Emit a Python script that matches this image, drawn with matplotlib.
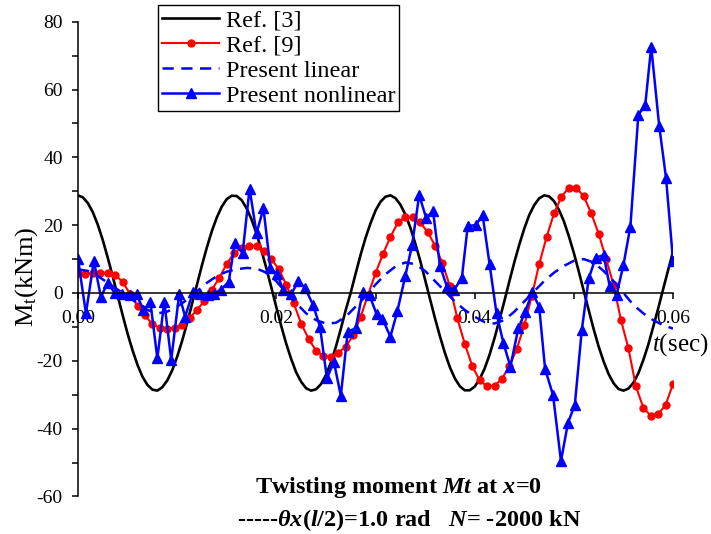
import matplotlib
matplotlib.use("Agg")
import matplotlib.pyplot as plt
import numpy as np
from matplotlib.ticker import MultipleLocator, FormatStrFormatter

SERIF = "Liberation Serif"
plt.rcParams["font.family"] = SERIF
plt.rcParams["axes.unicode_minus"] = False
plt.rcParams["mathtext.fontset"] = "custom"
plt.rcParams["mathtext.rm"] = SERIF
plt.rcParams["mathtext.it"] = SERIF + ":italic"
plt.rcParams["mathtext.bf"] = SERIF + ":bold"
plt.rcParams["mathtext.bfit"] = SERIF + ":bold:italic"

# ---- data -------------------------------------------------------------
# Ref. [3]: sampled every 0.5 ms
t_ref3 = np.linspace(0.0, 0.06, 121)
m_ref3 = [
    28.8, 28.2, 26.5, 23.8, 20.1, 15.6, 10.4, 4.9, -0.8, -6.5,
    -12.0, -16.9, -21.2, -24.7, -27.1, -28.5, -28.8, -27.8, -25.8, -22.8,
    -18.8, -14.1, -8.9, -3.2, 2.5, 8.2, 13.5, 18.3, 22.3, 25.5,
    27.7, 28.7, 28.6, 27.4, 25.0, 21.7, 17.5, 12.6, 7.2, 1.6,
    -4.2, -9.8, -15.0, -19.5, -23.4, -26.2, -28.1, -28.8, -28.4, -26.9,
    -24.2, -20.5, -15.9, -10.6, -5.0, 0.1, 5.8, 11.3, 16.3, 20.6,
    24.3, 26.9, 28.4, 28.8, 28.0, 26.1, 23.2, 19.4, 14.7, 9.6,
    3.9, -1.8, -7.5, -12.8, -17.7, -21.9, -25.2, -27.5, -28.7, -28.7,
    -27.6, -25.4, -22.3, -18.2, -13.3, -7.9, -2.3, 3.5, 9.1, 14.3,
    19.0, 23.0, 25.9, 27.9, 28.8, 28.5, 27.1, 24.5, 21.1, 16.7,
    11.8, 6.3, 0.6, -5.1, -10.7, -15.8, -20.2, -23.9, -26.6, -28.3,
    -28.8, -28.2, -26.5, -23.7, -19.8, -15.3, -10.0, -4.6, 1.1, 6.7,
    12.2,
]

# Ref. [9]: sampled every 0.75 ms
t_ref9 = np.linspace(0.0, 0.06, 81)
m_ref9 = [
    6.0, 5.6, 6.0, 6.0, 5.9, 5.3, 3.3, -0.3, -3.8, -6.6,
    -9.2, -10.3, -10.5, -10.3, -9.3, -7.5, -4.9, -2.4, 1.0, 4.5,
    8.6, 11.8, 13.4, 14.0, 13.8, 12.4, 10.0, 7.0, 2.5, -3.0,
    -9.0, -13.5, -17.0, -18.6, -18.8, -17.6, -15.8, -12.5, -7.0, -0.5,
    5.8, 11.5, 16.5, 20.8, 22.3, 22.3, 20.8, 18.0, 14.0, 8.8,
    2.0, -7.5, -15.0, -21.5, -25.8, -27.5, -27.4, -25.3, -21.5, -16.5,
    -9.5, -1.0, 8.5, 16.5, 23.5, 28.4, 31.1, 31.0, 28.5, 23.5,
    17.5, 10.0, 2.5, -8.0, -16.3, -27.5, -33.8, -36.2, -35.8, -33.0,
    -26.8,
]

# Present linear: sampled every 1 ms
t_lin = np.linspace(0.0, 0.06, 61)
m_lin = [
    7.0, 6.5, 5.0, 3.0, 1.0, -1.0, -3.0, -5.0, -6.0, -5.5,
    -4.0, -2.0, 0.5, 3.0, 5.0, 6.3, 7.0, 7.4, 7.2, 6.0,
    3.5, 0.0, -3.0, -6.0, -8.0, -9.0, -8.8, -7.0, -4.0, -1.0,
    2.5, 5.5, 7.8, 9.0, 8.5, 6.5, 3.5, 0.5, -2.5, -5.0,
    -7.0, -8.6, -9.0, -8.0, -5.5, -2.5, 0.5, 3.5, 6.0, 8.0,
    9.5, 10.0, 9.0, 6.5, 3.5, 0.0, -3.5, -6.0, -8.0, -9.5,
    -10.5,
]

# Present nonlinear
t_nl = [
    0.0000, 0.0008, 0.0016, 0.0023, 0.0030, 0.0037, 0.0044, 0.0052, 0.0059, 0.0066,
    0.0073, 0.0080, 0.0087, 0.0094, 0.0102, 0.0108, 0.0116, 0.0123, 0.0131, 0.0137,
    0.0144, 0.0152, 0.0158, 0.0166, 0.0173, 0.0180, 0.0187, 0.0194, 0.0201, 0.0207,
    0.0215, 0.0222, 0.0229, 0.0237, 0.0244, 0.0251, 0.0258, 0.0265, 0.0272, 0.0280,
    0.0287, 0.0294, 0.0301, 0.0307, 0.0315, 0.0322, 0.0330, 0.0337, 0.0344, 0.0351,
    0.0358, 0.0365, 0.0372, 0.0379, 0.0387, 0.0393, 0.0401, 0.0408, 0.0415, 0.0422,
    0.0429, 0.0436, 0.0444, 0.0451, 0.0458, 0.0465, 0.0471, 0.0479, 0.0487, 0.0494,
    0.0501, 0.0508, 0.0515, 0.0522, 0.0530, 0.0536, 0.0543, 0.0550, 0.0557, 0.0565,
    0.0572, 0.0578, 0.0586, 0.0593, 0.0600,
]
m_nl = [
    10.0, -6.0, 9.5, -1.1, 2.9, 0.0, -0.4, -0.6, -0.4, -5.0,
    -2.7, -19.3, -2.6, -19.8, -0.4, -7.0, 0.3, -0.4, -0.6, -0.2,
    1.0, 3.3, 14.7, 11.8, 30.8, 17.6, 25.0, 7.3, 5.5, 0.8,
    -0.4, 3.5, 1.5, -3.5, -9.9, -25.2, -20.3, -30.3, -11.4, -10.4,
    0.3, -0.7, -6.2, -7.6, -12.9, -5.4, 5.0, 14.3, 28.9, 22.2,
    24.1, 8.0, 1.9, 0.9, 4.3, 19.8, 20.0, 23.0, 8.5, -6.0,
    -14.8, -21.7, -10.4, -5.5, 0.2, -4.0, -22.4, -30.1, -49.6, -38.4,
    -32.9, -10.9, 4.3, 10.4, 11.2, 2.2, -0.6, 8.3, 19.6, 52.5,
    55.5, 72.7, 49.4, 33.8, 9.5,
]

x_ticks = [0.00, 0.02, 0.04, 0.06]
y_ticks = [-60, -40, -20, 0, 20, 40, 60, 80]

# ---- figure -----------------------------------------------------------
fig = plt.figure(figsize=(7.11, 5.34), dpi=100)
ax = fig.add_axes([0.1097, 0.0704, 0.8369, 0.8888])

ax.plot(t_ref3, m_ref3, color="black", lw=1.9, label="Ref. [3]")
ax.plot(t_ref9, m_ref9, color="#ff0000", lw=1.5, marker="o", ms=5,
        label="Ref. [9]")
ax.plot(t_lin, m_lin, color="#0000ff", lw=1.8, ls=(0, (4.5, 3.0)),
        label="Present linear")
ax.plot(t_nl, m_nl, color="#0000ff", lw=1.8, marker="^", ms=7,
        label="Present nonlinear")

ax.set_xlim(0, 0.06)
ax.set_ylim(-60, 80)

ax.spines["top"].set_visible(False)
ax.spines["right"].set_visible(False)
ax.spines["bottom"].set_position(("data", 0))
for s in ("left", "bottom"):
    ax.spines[s].set_linewidth(1.1)

ax.set_xticks(x_ticks)
ax.xaxis.set_minor_locator(MultipleLocator(0.01))
ax.xaxis.set_major_formatter(FormatStrFormatter("%.2f"))
ax.set_yticks(y_ticks)
ax.yaxis.set_minor_locator(MultipleLocator(10))
ax.tick_params(which="both", direction="out", length=4, width=1.1,
               color="black")
ax.tick_params(axis="x", labelsize=14, pad=8)
ax.tick_params(axis="y", labelsize=14, pad=7)

leg = ax.legend(loc="upper left", bbox_to_anchor=(158 / 711, 1 - 5 / 534),
                bbox_transform=fig.transFigure, borderaxespad=0,
                fancybox=False, edgecolor="black", framealpha=1,
                fontsize=17.5, handlelength=2.35, handletextpad=0.25,
                labelspacing=0.13, borderpad=0.18)
leg.get_frame().set_linewidth(1.0)

fig.text(27 / 711, 1 - 277 / 534, r"M$_\mathrm{t}$(kNm)", rotation=90,
         ha="center", va="center", fontsize=19)
fig.text(680 / 711, 1 - 345 / 534, r"$\mathit{t}$(sec)",
         ha="center", va="center", fontsize=18)

fig.text(398 / 711, 1 - 488 / 534,
         r"Twisting moment $\mathbfit{Mt}$ at $\mathbfit{x}$=0",
         ha="center", va="center", fontsize=17.5, fontweight="bold")
fig.text(409 / 711, 1 - 520 / 534,
         r"-----$\mathbfit{θx}$($\mathbfit{l}$/2)=1.0 rad   $\mathbfit{N}$= -2000 kN",
         ha="center", va="center", fontsize=17.5, fontweight="bold")

fig.savefig("out.png", dpi=100)
